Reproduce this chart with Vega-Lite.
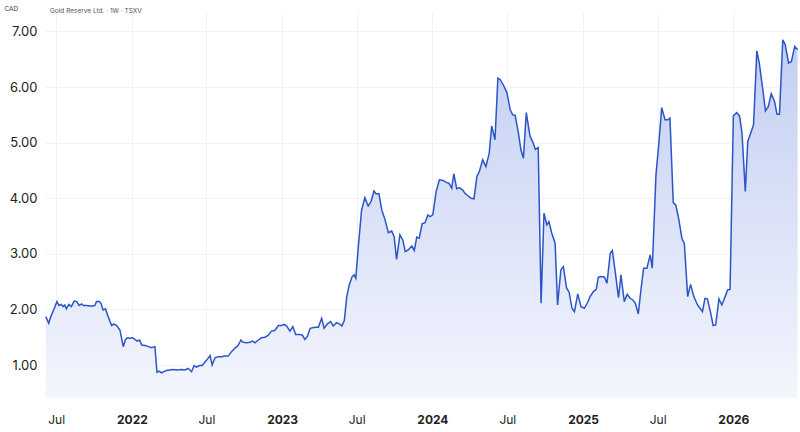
{
  "$schema": "https://vega.github.io/schema/vega-lite/v6.json",
  "width": 753,
  "height": 386,
  "autosize": {"type": "none"},
  "padding": {"left": 45, "top": 12, "right": 2, "bottom": 34},
  "background": "white",
  "config": {"view": {"stroke": null}, "font": "Inter"},
  "title": {"text": "Gold Reserve Ltd. · 1W · TSXV", "anchor": "start", "frame": "group", "fontSize": 6.5, "fontWeight": "normal", "color": "#555555", "offset": 0, "dx": 5, "dy": 12, "baseline": "middle"},
  "data": {"values": [
    {"date":"2021-06-06","close":1.87},{"date":"2021-06-13","close":1.75},{"date":"2021-06-18","close":1.87},{"date":"2021-06-25","close":1.99},
    {"date":"2021-07-03","close":2.14},{"date":"2021-07-08","close":2.07},{"date":"2021-07-14","close":2.09},{"date":"2021-07-18","close":2.05},
    {"date":"2021-07-22","close":2.08},{"date":"2021-07-26","close":2.01},{"date":"2021-08-01","close":2.09},{"date":"2021-08-07","close":2.05},
    {"date":"2021-08-14","close":2.15},{"date":"2021-08-20","close":2.14},{"date":"2021-08-26","close":2.07},{"date":"2021-09-01","close":2.10},
    {"date":"2021-09-06","close":2.07},{"date":"2021-09-13","close":2.07},{"date":"2021-09-21","close":2.06},{"date":"2021-09-29","close":2.06},
    {"date":"2021-10-03","close":2.07},{"date":"2021-10-07","close":2.14},{"date":"2021-10-14","close":2.14},{"date":"2021-10-18","close":2.11},
    {"date":"2021-10-23","close":1.99},{"date":"2021-10-29","close":2.01},{"date":"2021-11-03","close":1.90},{"date":"2021-11-09","close":1.78},
    {"date":"2021-11-13","close":1.71},{"date":"2021-11-18","close":1.74},{"date":"2021-11-25","close":1.71},{"date":"2021-12-03","close":1.63},
    {"date":"2021-12-07","close":1.48},{"date":"2021-12-11","close":1.33},{"date":"2021-12-16","close":1.45},{"date":"2021-12-21","close":1.49},
    {"date":"2021-12-27","close":1.48},{"date":"2022-01-03","close":1.49},{"date":"2022-01-08","close":1.46},{"date":"2022-01-14","close":1.43},
    {"date":"2022-01-20","close":1.45},{"date":"2022-01-25","close":1.36},{"date":"2022-02-02","close":1.35},{"date":"2022-02-10","close":1.33},
    {"date":"2022-02-18","close":1.31},{"date":"2022-02-26","close":1.33},{"date":"2022-03-03","close":0.87},{"date":"2022-03-08","close":0.89},
    {"date":"2022-03-14","close":0.86},{"date":"2022-03-20","close":0.88},{"date":"2022-03-26","close":0.90},{"date":"2022-04-03","close":0.91},
    {"date":"2022-04-11","close":0.92},{"date":"2022-04-20","close":0.91},{"date":"2022-05-02","close":0.92},{"date":"2022-05-10","close":0.91},
    {"date":"2022-05-18","close":0.94},{"date":"2022-05-26","close":0.88},{"date":"2022-06-01","close":0.99},{"date":"2022-06-07","close":0.96},
    {"date":"2022-06-14","close":0.99},{"date":"2022-06-21","close":0.99},{"date":"2022-06-27","close":1.05},{"date":"2022-07-04","close":1.11},
    {"date":"2022-07-10","close":1.17},{"date":"2022-07-15","close":1.00},{"date":"2022-07-22","close":1.13},{"date":"2022-07-30","close":1.15},
    {"date":"2022-08-07","close":1.15},{"date":"2022-08-15","close":1.16},{"date":"2022-08-23","close":1.16},{"date":"2022-08-31","close":1.24},
    {"date":"2022-09-08","close":1.30},{"date":"2022-09-16","close":1.35},{"date":"2022-09-23","close":1.45},{"date":"2022-09-28","close":1.41},
    {"date":"2022-10-07","close":1.40},{"date":"2022-10-15","close":1.41},{"date":"2022-10-21","close":1.43},{"date":"2022-10-27","close":1.40},
    {"date":"2022-11-04","close":1.45},{"date":"2022-11-12","close":1.49},{"date":"2022-11-20","close":1.50},{"date":"2022-11-28","close":1.53},
    {"date":"2022-12-06","close":1.61},{"date":"2022-12-14","close":1.62},{"date":"2022-12-23","close":1.71},{"date":"2022-12-31","close":1.71},
    {"date":"2023-01-06","close":1.73},{"date":"2023-01-12","close":1.70},{"date":"2023-01-20","close":1.61},{"date":"2023-01-27","close":1.69},
    {"date":"2023-02-03","close":1.55},{"date":"2023-02-11","close":1.55},{"date":"2023-02-19","close":1.54},{"date":"2023-02-25","close":1.46},
    {"date":"2023-03-03","close":1.51},{"date":"2023-03-10","close":1.66},{"date":"2023-03-22","close":1.68},{"date":"2023-03-30","close":1.68},
    {"date":"2023-04-07","close":1.84},{"date":"2023-04-13","close":1.66},{"date":"2023-04-21","close":1.74},{"date":"2023-04-29","close":1.78},
    {"date":"2023-05-05","close":1.70},{"date":"2023-05-13","close":1.76},{"date":"2023-05-20","close":1.74},{"date":"2023-05-26","close":1.70},
    {"date":"2023-06-01","close":1.80},{"date":"2023-06-07","close":2.23},{"date":"2023-06-13","close":2.44},{"date":"2023-06-20","close":2.59},
    {"date":"2023-06-25","close":2.62},{"date":"2023-06-29","close":2.56},{"date":"2023-07-05","close":3.13},{"date":"2023-07-13","close":3.79},
    {"date":"2023-07-21","close":4.01},{"date":"2023-07-29","close":3.86},{"date":"2023-08-05","close":3.94},{"date":"2023-08-12","close":4.13},
    {"date":"2023-08-17","close":4.08},{"date":"2023-08-24","close":4.08},{"date":"2023-08-31","close":3.79},{"date":"2023-09-08","close":3.61},
    {"date":"2023-09-16","close":3.38},{"date":"2023-09-24","close":3.41},{"date":"2023-09-30","close":3.31},{"date":"2023-10-06","close":2.90},
    {"date":"2023-10-14","close":3.34},{"date":"2023-10-21","close":3.25},{"date":"2023-10-27","close":3.04},{"date":"2023-11-03","close":3.07},
    {"date":"2023-11-12","close":3.14},{"date":"2023-11-18","close":3.06},{"date":"2023-11-24","close":3.30},{"date":"2023-11-30","close":3.28},
    {"date":"2023-12-07","close":3.54},{"date":"2023-12-14","close":3.56},{"date":"2023-12-21","close":3.70},{"date":"2023-12-26","close":3.67},
    {"date":"2024-01-02","close":3.70},{"date":"2024-01-10","close":4.12},{"date":"2024-01-18","close":4.33},{"date":"2024-01-27","close":4.32},
    {"date":"2024-02-05","close":4.28},{"date":"2024-02-10","close":4.27},{"date":"2024-02-17","close":4.18},{"date":"2024-02-22","close":4.44},
    {"date":"2024-02-29","close":4.17},{"date":"2024-03-06","close":4.19},{"date":"2024-03-14","close":4.15},{"date":"2024-03-20","close":4.09},
    {"date":"2024-03-28","close":4.04},{"date":"2024-04-04","close":4.00},{"date":"2024-04-11","close":3.99},{"date":"2024-04-18","close":4.39},
    {"date":"2024-04-24","close":4.48},{"date":"2024-05-02","close":4.69},{"date":"2024-05-10","close":4.57},{"date":"2024-05-18","close":4.81},
    {"date":"2024-05-24","close":5.30},{"date":"2024-06-01","close":5.05},{"date":"2024-06-08","close":6.16},{"date":"2024-06-13","close":6.14},
    {"date":"2024-06-21","close":6.04},{"date":"2024-06-30","close":5.90},{"date":"2024-07-08","close":5.59},{"date":"2024-07-14","close":5.50},
    {"date":"2024-07-20","close":5.49},{"date":"2024-07-28","close":5.17},{"date":"2024-08-03","close":4.87},{"date":"2024-08-09","close":4.72},
    {"date":"2024-08-16","close":5.54},{"date":"2024-08-25","close":5.12},{"date":"2024-09-02","close":4.99},{"date":"2024-09-07","close":4.88},
    {"date":"2024-09-14","close":4.91},{"date":"2024-09-21","close":2.11},{"date":"2024-09-28","close":3.73},{"date":"2024-10-05","close":3.52},
    {"date":"2024-10-10","close":3.58},{"date":"2024-10-17","close":3.37},{"date":"2024-10-25","close":3.19},{"date":"2024-10-31","close":2.08},
    {"date":"2024-11-08","close":2.71},{"date":"2024-11-14","close":2.77},{"date":"2024-11-22","close":2.38},{"date":"2024-11-28","close":2.31},
    {"date":"2024-12-05","close":2.02},{"date":"2024-12-11","close":1.96},{"date":"2024-12-19","close":2.28},{"date":"2024-12-27","close":2.05},
    {"date":"2025-01-04","close":2.02},{"date":"2025-01-11","close":2.11},{"date":"2025-01-18","close":2.23},{"date":"2025-01-26","close":2.32},
    {"date":"2025-02-02","close":2.36},{"date":"2025-02-07","close":2.58},{"date":"2025-02-15","close":2.59},{"date":"2025-02-22","close":2.58},
    {"date":"2025-02-28","close":2.47},{"date":"2025-03-08","close":3.01},{"date":"2025-03-13","close":3.06},{"date":"2025-03-20","close":2.68},
    {"date":"2025-03-28","close":2.21},{"date":"2025-04-03","close":2.62},{"date":"2025-04-11","close":2.14},{"date":"2025-04-18","close":2.27},
    {"date":"2025-04-25","close":2.20},{"date":"2025-05-02","close":2.17},{"date":"2025-05-08","close":2.11},{"date":"2025-05-15","close":1.92},
    {"date":"2025-05-22","close":2.38},{"date":"2025-05-28","close":2.74},{"date":"2025-06-05","close":2.74},{"date":"2025-06-13","close":2.98},
    {"date":"2025-06-18","close":2.74},{"date":"2025-06-27","close":4.42},{"date":"2025-07-03","close":4.90},{"date":"2025-07-11","close":5.63},
    {"date":"2025-07-19","close":5.41},{"date":"2025-07-26","close":5.41},{"date":"2025-07-31","close":5.44},{"date":"2025-08-08","close":3.92},
    {"date":"2025-08-14","close":3.88},{"date":"2025-08-21","close":3.64},{"date":"2025-08-29","close":3.28},{"date":"2025-09-04","close":3.18},
    {"date":"2025-09-12","close":2.23},{"date":"2025-09-19","close":2.45},{"date":"2025-09-27","close":2.23},{"date":"2025-10-06","close":2.08},
    {"date":"2025-10-12","close":2.02},{"date":"2025-10-18","close":1.96},{"date":"2025-10-24","close":2.20},{"date":"2025-10-30","close":2.19},
    {"date":"2025-11-07","close":1.93},{"date":"2025-11-13","close":1.71},{"date":"2025-11-19","close":1.72},{"date":"2025-11-27","close":2.19},
    {"date":"2025-12-04","close":2.08},{"date":"2025-12-12","close":2.23},{"date":"2025-12-18","close":2.35},{"date":"2025-12-24","close":2.36},
    {"date":"2026-01-01","close":5.48},{"date":"2026-01-09","close":5.54},{"date":"2026-01-16","close":5.48},{"date":"2026-01-22","close":5.17},
    {"date":"2026-01-30","close":4.12},{"date":"2026-02-05","close":5.02},{"date":"2026-02-12","close":5.17},{"date":"2026-02-19","close":5.32},
    {"date":"2026-02-27","close":6.65},{"date":"2026-03-05","close":6.43},{"date":"2026-03-13","close":5.98},{"date":"2026-03-20","close":5.57},
    {"date":"2026-03-27","close":5.65},{"date":"2026-04-03","close":5.88},{"date":"2026-04-11","close":5.74},{"date":"2026-04-17","close":5.51},
    {"date":"2026-04-23","close":5.51},{"date":"2026-05-01","close":6.85},{"date":"2026-05-07","close":6.76},{"date":"2026-05-15","close":6.43},
    {"date":"2026-05-22","close":6.46},{"date":"2026-05-30","close":6.73},{"date":"2026-06-06","close":6.67}
  ]},
  "encoding": {
    "x": {
      "field": "date", "type": "temporal",
      "scale": {"type": "utc", "domain": [{"year": 2021, "month": 6, "date": 4, "utc": true}, {"year": 2026, "month": 6, "date": 7, "utc": true}]},
      "axis": {
        "title": null,
        "values": [
          {"year": 2021, "month": 7, "date": 1, "utc": true},
          {"year": 2022, "month": 1, "date": 1, "utc": true},
          {"year": 2022, "month": 7, "date": 1, "utc": true},
          {"year": 2023, "month": 1, "date": 1, "utc": true},
          {"year": 2023, "month": 7, "date": 1, "utc": true},
          {"year": 2024, "month": 1, "date": 1, "utc": true},
          {"year": 2024, "month": 7, "date": 1, "utc": true},
          {"year": 2025, "month": 1, "date": 1, "utc": true},
          {"year": 2025, "month": 7, "date": 1, "utc": true},
          {"year": 2026, "month": 1, "date": 1, "utc": true}
        ],
        "labelExpr": "utcmonth(datum.value) == 0 ? utcFormat(datum.value, '%Y') : utcFormat(datum.value, '%b')",
        "labelFontWeight": {"condition": {"test": "utcmonth(datum.value) == 0", "value": "bold"}, "value": "normal"},
        "ticks": false, "domain": false,
        "grid": true, "gridColor": "#f1f2f5", "gridWidth": 1,
        "labelFontSize": 12, "labelColor": "#222222", "labelPadding": 16
      }
    },
    "y": {
      "field": "close", "type": "quantitative",
      "scale": {"domain": [0.4065, 7.349], "nice": false, "zero": false},
      "axis": {
        "title": "CAD", "titleAngle": 0, "titleX": -41, "titleY": -4, "titleAlign": "left", "titleBaseline": "middle",
        "titleFontSize": 6.5, "titleFontWeight": "normal", "titleColor": "#444444",
        "values": [1, 2, 3, 4, 5, 6, 7], "format": ".2f",
        "ticks": false, "domain": false,
        "grid": true, "gridColor": "#f1f2f5", "gridWidth": 1,
        "labelFontSize": 13, "labelColor": "#222222", "labelPadding": 8
      }
    }
  },
  "layer": [
    {
      "mark": {
        "type": "area", "clip": true,
        "color": {"gradient": "linear", "x1": 0, "y1": 0, "x2": 0, "y2": 1,
          "stops": [{"offset": 0, "color": "#c3cff2"}, {"offset": 1, "color": "#f7f8fe"}]}
      }
    },
    {
      "mark": {"type": "line", "color": "#2b55c7", "strokeWidth": 1.5}
    }
  ]
}
